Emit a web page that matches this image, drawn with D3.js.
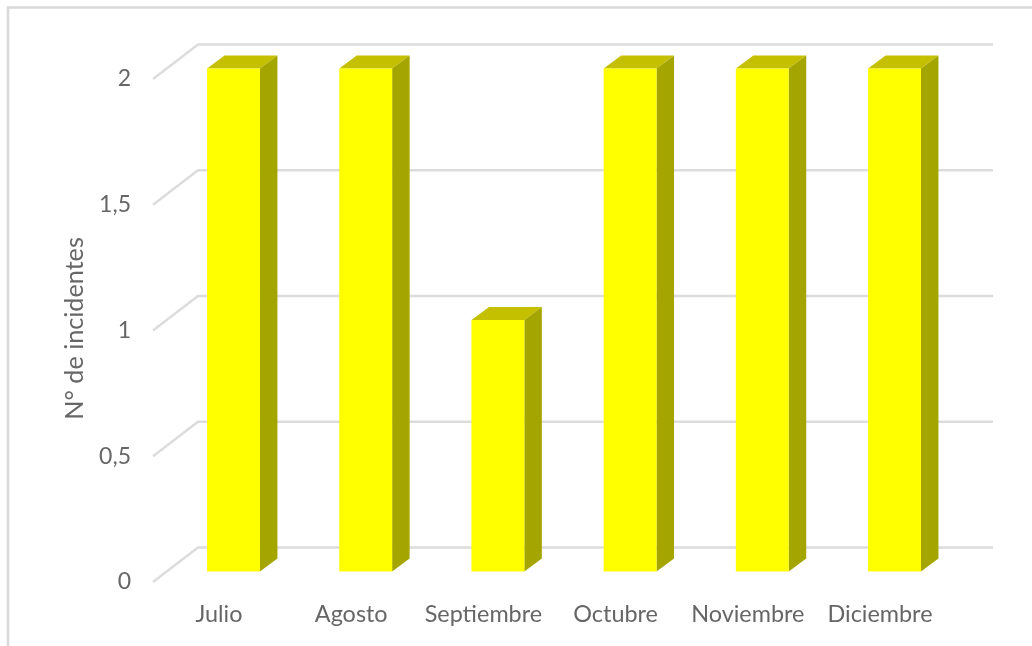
<!DOCTYPE html>
<html>
<head>
<meta charset="utf-8">
<script src="https://cdn.jsdelivr.net/npm/d3@7"></script>
<style>
  html, body { margin: 0; padding: 0; background: #fff; overflow: hidden; }
  text { font-family: Lato, "Open Sans", sans-serif; fill: #666; }
</style>
</head>
<body>
<div class="chart"></div>
<script>
var svgWidth = 1032;
var svgHeight = 646;

var months = ["Julio", "Agosto", "Septiembre", "Octubre", "Noviembre", "Diciembre"];
var incidents = [2, 2, 1, 2, 2, 2];
var yTicks = [0, 0.5, 1, 1.5, 2];
var yTickLabels = ["0", "0,5", "1", "1,5", "2"];

// 3d offset of the bars and of the walls
var depthX = 17.5;
var depthY = 13;
var wallBack = { x: 198, y: 24 };
var wallFront = { x: 153, y: 10.5 };
var wallRight = 993;

var svg = d3
  .select(".chart")
  .append("svg")
  .attr("width", svgWidth)
  .attr("height", svgHeight)
  .style("display", "block")
  .style("filter", "blur(0.4px)"); // the reference is a slightly soft screenshot

var xScale = d3.scaleBand()
  .domain(months)
  .range([167.4, 960.6])
  .paddingInner(0.6)
  .paddingOuter(0.3);

var yScale = d3.scaleLinear()
  .domain([0, 2])
  .range([571.5, 68.5]);

// outer frame, cropped at the right and bottom of the picture
svg.append("path")
  .attr("d", `M8,${svgHeight} V7.5 H${svgWidth}`)
  .attr("fill", "none")
  .attr("stroke", "#d9d9d9")
  .attr("stroke-width", 2.5);

// gridlines: side wall then back wall
svg.append("g")
  .selectAll("path")
  .data(yTicks)
  .enter()
  .append("path")
  .attr("d", d => `M${wallFront.x},${yScale(d) + wallFront.y} L${wallBack.x},${yScale(d) - wallBack.y} H${wallRight}`)
  .attr("fill", "none")
  .attr("stroke", "#dcdcdc")
  .attr("stroke-width", 2.4);

// bars, three faces each
var bars = svg.append("g")
  .selectAll("g")
  .data(incidents)
  .enter()
  .append("g");

bars.append("path")
  .attr("fill", "#c4c000")
  .attr("d", (d, i) => {
    var x0 = xScale(months[i]);
    var x1 = x0 + xScale.bandwidth();
    var top = yScale(d);
    return `M${x0},${top} L${x0 + depthX},${top - depthY} H${x1 + depthX} L${x1},${top} Z`;
  });

bars.append("path")
  .attr("fill", "#a5a500")
  .attr("d", (d, i) => {
    var x1 = xScale(months[i]) + xScale.bandwidth();
    var top = yScale(d);
    var bottom = yScale(0);
    return `M${x1},${top} L${x1 + depthX},${top - depthY} V${bottom - depthY} L${x1},${bottom} Z`;
  });

bars.append("rect")
  .attr("fill", "#ffff00")
  .attr("x", (d, i) => xScale(months[i]))
  .attr("y", d => yScale(d))
  .attr("width", xScale.bandwidth())
  .attr("height", d => yScale(0) - yScale(d));

// y axis labels sit next to the front of the side wall
var leftAxis = d3.axisLeft(yScale)
  .tickValues(yTicks)
  .tickFormat((d, i) => yTickLabels[i])
  .tickSize(0)
  .tickPadding(0);

var yAxis = svg.append("g")
  .attr("transform", "translate(131, 10)")
  .call(leftAxis);
yAxis.select(".domain").remove();
yAxis.selectAll("text").style("font-size", "23px");

// x axis labels are shifted left of the bars by the perspective
var bottomAxis = d3.axisBottom(xScale)
  .tickSize(0)
  .tickPadding(0);

var xAxis = svg.append("g")
  .attr("transform", "translate(-14.5, 605)")
  .call(bottomAxis);
xAxis.select(".domain").remove();
xAxis.selectAll("text").style("font-size", "23.4px");

svg.append("text")
  .attr("transform", "translate(83, 328.5) rotate(-90)")
  .style("text-anchor", "middle")
  .style("font-size", "25.2px")
  .text("N° de incidentes");
</script>
</body>
</html>
